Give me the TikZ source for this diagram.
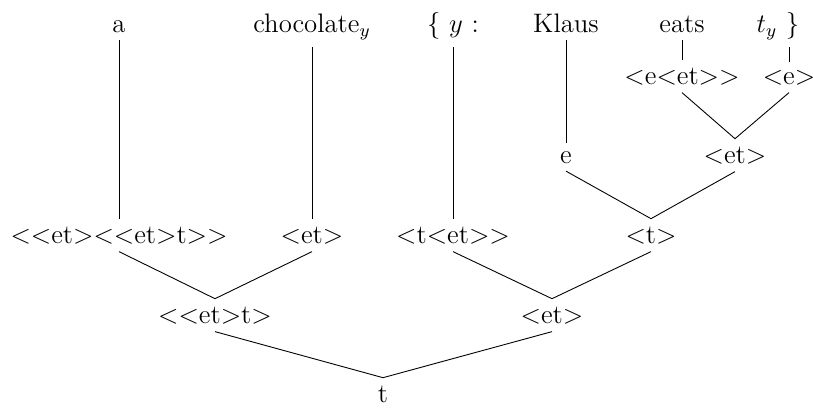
\documentclass[tikz,border=0pt]{standalone}
\usepackage{fontspec}
\newcommand\lb{<\kern0pt}
\newcommand\rb{>\kern0pt}
\begin{document}
\begin{tikzpicture}[x=0.4485pt,y=-0.4485pt,
  lbl/.style={anchor=base,font=\fontsize{12}{14}\selectfont,inner sep=3.33pt},
  edge/.style={line width=0.4pt}]
\useasboundingbox (0,0) rectangle (813,408);
% leaves
\node[lbl] (a) at (119,32) {a};
\node[lbl] (choc) at (312,32) {chocolate$_y$};
\node[lbl] (ylam) at (453,32) {\{ $y$ :};
\node[lbl] (klaus) at (566,32) {Klaus};
\node[lbl] (eats) at (682,32) {eats};
\node[lbl] (ty) at (778,32) {$t_y$ \}};
% row 2
\node[lbl] (eet) at (682,84) {\lb e\lb et\rb\rb};
\node[lbl] (e1) at (789,84) {\lb e\rb};
% row 3
\node[lbl] (e0) at (566,163) {e};
\node[lbl] (et3) at (735,163) {\lb et\rb};
% row 4
\node[lbl] (L1) at (119,243) {\lb\lb et\rb\lb\lb et\rb t\rb\rb};
\node[lbl] (et1) at (312,243) {\lb et\rb};
\node[lbl] (tet) at (453,243) {\lb t\lb et\rb\rb};
\node[lbl] (t1) at (651,243) {\lb t\rb};
% row 5
\node[lbl] (ett) at (215,323) {\lb\lb et\rb t\rb};
\node[lbl] (et2) at (552,323) {\lb et\rb};
% root
\node[lbl] (t0) at (383,402) {t};
% edges
\draw[edge] (L1.north) -- (L1.north |- a.south);
\draw[edge] (et1.north) -- (et1.north |- choc.south);
\draw[edge] (tet.north) -- (tet.north |- ylam.south);
\draw[edge] (e0.north) -- (e0.north |- klaus.south);
\draw[edge] (eet.north) -- (eet.north |- eats.south);
\draw[edge] (e1.north) -- (e1.north |- ty.south);
\draw[edge] (eet.south) -- (et3.north) -- (e1.south);
\draw[edge] (e0.south) -- (t1.north) -- (et3.south);
\draw[edge] (L1.south) -- (ett.north) -- (et1.south);
\draw[edge] (tet.south) -- (et2.north) -- (t1.south);
\draw[edge] (ett.south) -- (t0.north) -- (et2.south);
\end{tikzpicture}
\end{document}
